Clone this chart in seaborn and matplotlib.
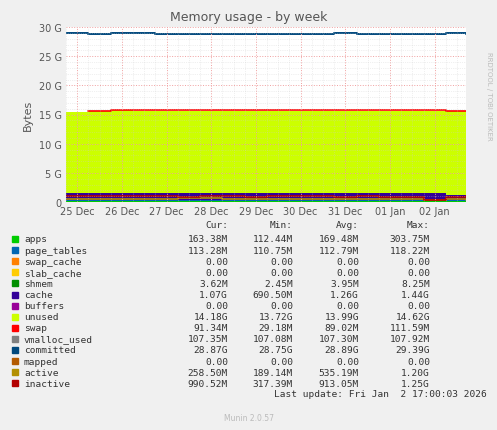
import numpy as np
import matplotlib.pyplot as plt
import seaborn as sns

sns.set_style("white")
plt.rcParams['font.family'] = ['DejaVu Sans']

# sample times in days since 25 Dec 00:00 (half-day steps)
days = [-0.25, 0.25, 0.75, 1.25, 1.75, 2.25, 2.75, 3.25, 3.75, 4.25, 4.75,
        5.25, 5.75, 6.25, 6.75, 7.25, 7.75, 8.25, 8.7]
day_labels = ["25 Dec", "26 Dec", "27 Dec", "28 Dec", "29 Dec", "30 Dec",
              "31 Dec", "01 Jan", "02 Jan"]

# values in GB
apps = [0.16, 0.17, 0.17, 0.16, 0.17, 0.18, 0.16, 0.17, 0.16, 0.17, 0.16,
        0.17, 0.18, 0.17, 0.16, 0.17, 0.29, 0.18, 0.16]
page_tables = [0.11] * 19
slab_cache = [0.0] * 19
shmem = [0.004] * 19
cache = [1.30, 1.32, 1.33, 1.25, 1.26, 1.25, 1.24, 1.24, 1.25, 1.23, 1.24,
         1.26, 1.27, 1.27, 1.30, 1.34, 1.10, 0.95, 1.07]
unused = [13.82, 13.96, 14.10, 14.14, 14.11, 14.13, 14.15, 14.14, 14.12, 14.16, 14.15,
          14.13, 14.12, 14.12, 14.10, 14.05, 14.16, 14.35, 14.18]
swap = [np.nan, 0.09, 0.09, 0.09, 0.09, 0.09, 0.09, 0.09, 0.09, 0.09, 0.09,
        0.09, 0.09, 0.09, 0.09, 0.09, 0.09, 0.09, 0.09]
committed = [28.9, 28.8, 28.9, 28.9, 28.8, 28.8, 28.8, 28.8, 28.8, 28.8, 28.8,
             28.8, 28.9, 28.8, 28.8, 28.8, 28.8, 28.9, 28.87]
active = [0.45, 0.50, 0.55, 0.60, 0.45, 0.70, 0.65, 0.60, 0.55, 0.60, 0.50,
          0.55, 0.60, 0.55, 0.50, 0.45, 0.30, 0.60, 0.26]
inactive = [1.10, 1.00, 0.95, 1.10, 0.95, 0.90, 0.95, 1.00, 0.90, 0.95, 1.00,
            0.95, 0.90, 0.95, 0.85, 0.80, 0.40, 0.85, 0.99]

stack_names = ["apps", "page_tables", "slab_cache", "shmem", "cache", "unused"]
stack_vals = [apps, page_tables, slab_cache, shmem, cache, unused]
stack_cols = ["#00CC00", "#0066B3", "#FFCC00", "#008F00", "#330099", "#CCFF00"]

fig = plt.figure(figsize=(4.97, 4.31), dpi=100, facecolor="#F0F0F0")
ax = fig.add_axes([66 / 497, 1 - 203 / 431, 400 / 497, 175 / 431])
ax.set_facecolor("white")

x = np.array(days)
base = np.zeros(len(x))
for name, vals, col in zip(stack_names, stack_vals, stack_cols):
    v = np.array(vals)
    ax.fill_between(x, base, base + v, color=col, lw=0, step="post")
    base = base + v
ax.step(x, base + np.array(swap), where="post", color="#FF0000", lw=1.2)
ax.step(x, committed, where="post", color="#00487D", lw=1.4)
ax.step(x, active, where="post", color="#B38F00", lw=1.2)
ax.step(x, inactive, where="post", color="#B30000", lw=1.2)

ax.set_xlim(-0.25, 8.7)
ax.set_ylim(0, 30)
ax.set_xticks(range(9))
ax.set_xticklabels(day_labels, fontsize=7, color="#555555")
ax.set_xticks(np.arange(-0.25, 8.7, 0.25), minor=True)
ax.set_yticks(range(0, 31, 5))
ax.set_yticklabels(["0", "5 G", "10 G", "15 G", "20 G", "25 G", "30 G"],
                   fontsize=7, color="#555555")
ax.set_yticks(range(0, 31, 1), minor=True)
ax.grid(which="minor", color="#CCCCCC", ls=":", lw=0.5, alpha=0.6)
ax.grid(which="major", color="#F0A0A0", ls=":", lw=0.7)
ax.set_axisbelow(False)
ax.tick_params(length=0, which="both", pad=3)
for s in ax.spines.values():
    s.set_visible(False)
ax.set_ylabel("Bytes", fontsize=8, color="#555555")
fig.text(0.5, 1 - 18 / 431, "Memory usage - by week", ha="center", va="center",
         fontsize=9, color="#555555")
fig.text(0.983, 0.88, "RRDTOOL / TOBI OETIKER", rotation=270, fontsize=5,
         color="#BBBBBB", ha="center", va="top")

rows = [
    ("apps", "#00CC00", "163.38M", "112.44M", "169.48M", "303.75M"),
    ("page_tables", "#0066B3", "113.28M", "110.75M", "112.79M", "118.22M"),
    ("swap_cache", "#FF8000", "0.00", "0.00", "0.00", "0.00"),
    ("slab_cache", "#FFCC00", "0.00", "0.00", "0.00", "0.00"),
    ("shmem", "#008F00", "3.62M", "2.45M", "3.95M", "8.25M"),
    ("cache", "#330099", "1.07G", "690.50M", "1.26G", "1.44G"),
    ("buffers", "#990099", "0.00", "0.00", "0.00", "0.00"),
    ("unused", "#CCFF00", "14.18G", "13.72G", "13.99G", "14.62G"),
    ("swap", "#FF0000", "91.34M", "29.18M", "89.02M", "111.59M"),
    ("vmalloc_used", "#808080", "107.35M", "107.08M", "107.30M", "107.92M"),
    ("committed", "#00487D", "28.87G", "28.75G", "28.89G", "29.39G"),
    ("mapped", "#B35A00", "0.00", "0.00", "0.00", "0.00"),
    ("active", "#B38F00", "258.50M", "189.14M", "535.19M", "1.20G"),
    ("inactive", "#B30000", "990.52M", "317.39M", "913.05M", "1.25G"),
]
tc = "#333333"
fs = 6.8
hy = 226
for lab, cx in zip(["Cur:", "Min:", "Avg:", "Max:"], [228, 293, 359, 430]):
    fig.text(cx / 497, 1 - hy / 431, lab, ha="right", va="center", fontsize=fs,
             color=tc, family="DejaVu Sans Mono")
for i, (name, col, *vals) in enumerate(rows):
    y = 1 - (240 + i * 11.1) / 431
    fig.patches.append(plt.Rectangle((12 / 497, y - 3 / 431), 6 / 497, 6 / 431,
                                     transform=fig.transFigure, color=col))
    fig.text(24 / 497, y, name, va="center", fontsize=fs, color=tc,
             family="DejaVu Sans Mono")
    for v, cx in zip(vals, [228, 293, 359, 430]):
        fig.text(cx / 497, y, v, ha="right", va="center", fontsize=fs, color=tc,
                 family="DejaVu Sans Mono")
fig.text(487 / 497, 1 - 395 / 431, "Last update: Fri Jan  2 17:00:03 2026",
         ha="right", va="center", fontsize=fs, color=tc, family="DejaVu Sans Mono")
fig.text(0.5, 1 - 419 / 431, "Munin 2.0.57", ha="center", va="center",
         fontsize=5.5, color="#BBBBBB")

fig.savefig("out.png", dpi=100, facecolor=fig.get_facecolor())
